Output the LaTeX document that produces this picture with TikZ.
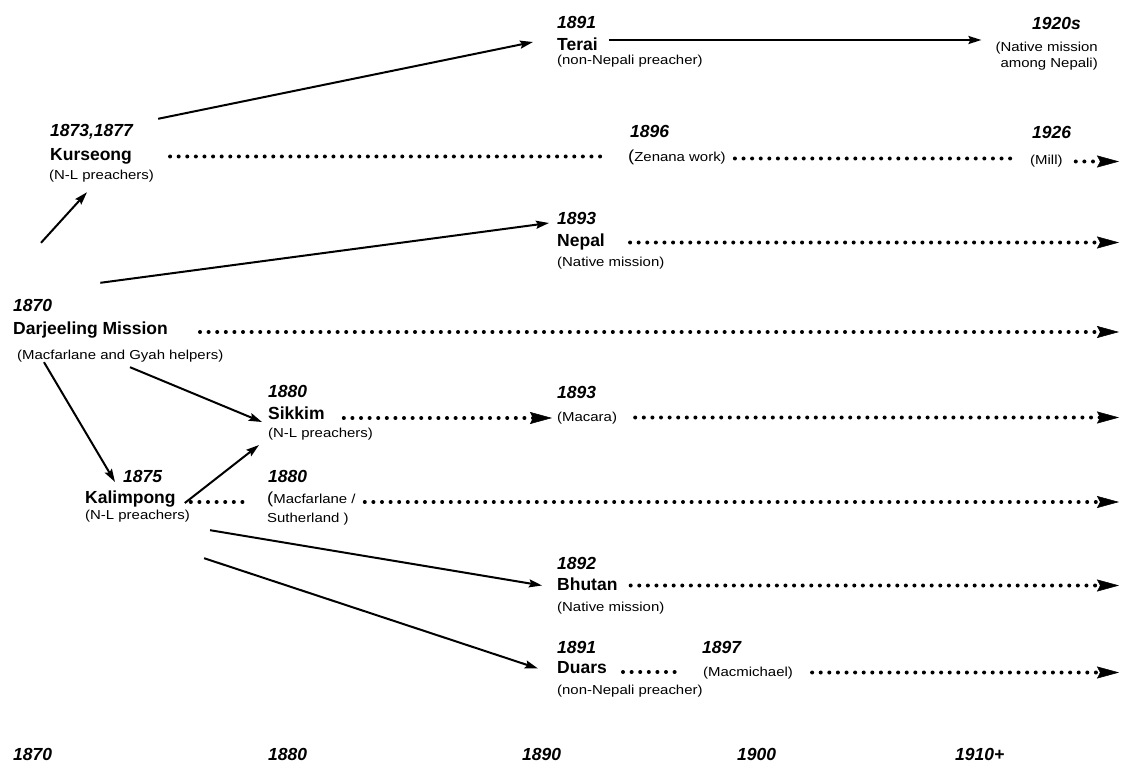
\documentclass[tikz,border=0pt]{standalone}
\usepackage{fontspec}
\setmainfont{Liberation Sans}
\newfontfamily\notefam[FakeStretch=1.15]{Liberation Sans}
\usetikzlibrary{arrows.meta}

\tikzset{
  yearlbl/.style={inner sep=0pt, anchor=base west, text height=13pt, text depth=0pt,
    font=\fontsize{17.5}{20}\selectfont\bfseries\itshape},
  placelbl/.style={inner sep=0pt, anchor=base west, text height=13pt, text depth=4pt,
    font=\fontsize{17.5}{20}\selectfont\bfseries},
  notelbl/.style={inner sep=0pt, anchor=base west, text height=10pt, text depth=3pt,
    font=\notefam\fontsize{13}{16}\selectfont},
  notepar/.style={inner sep=0pt, font=\notefam\fontsize{13}{16}\selectfont},
  arr/.style={line width=2pt, -{Stealth[length=13pt,width=8pt,inset=2pt]}},
  dotline/.style={line width=4pt, line cap=round, dash pattern=on 0pt off 8.6pt},
  dotarr/.style={dotline, -{Stealth[length=22pt,width=12pt,inset=3pt,line width=0.5pt]}}
}
\newcommand{\bigparen}{{\fontsize{16}{16}\selectfont(}}

\begin{document}
\begin{tikzpicture}[x=1pt,y=-1pt]
	\useasboundingbox (0,0) rectangle (1124,770);
	\coordinate (rEdge) at (1119,0);

	% Text Node
	\node[yearlbl] (terYear) at (557,29) {1891};
	\node[placelbl] (terName) at (557,51) {Terai};
	\node[notelbl] (terNote) at (557,65) {(non-Nepali preacher)};
	\node[yearlbl] (natYear) at (1032,30) {1920s};
	\node[notepar, align=right, anchor=north east] (natNote) at (1098,41.5) {(Native mission\\among Nepali)};
	% Text Node
	\node[yearlbl] (kurYear) at (50,137) {1873,1877};
	\node[placelbl] (kurName) at (50,161) {Kurseong};
	\node[notelbl] (kurNote) at (49,180) {(N-L preachers)};
	\node[yearlbl] (zenYear) at (630,138) {1896};
	\node[notelbl] (zenNote) at (628,162) {\bigparen Zenana work)};
	\node[yearlbl] (millYear) at (1032,139) {1926};
	\node[notelbl] (millNote) at (1030,165) {(Mill)};
	% Text Node
	\node[yearlbl] (nepYear) at (557,225) {1893};
	\node[placelbl] (nepName) at (557,247) {Nepal};
	\node[notelbl] (nepNote) at (557,266) {(Native mission)};
	% Text Node
	\node[yearlbl] (darYear) at (13,311) {1870};
	\node[placelbl] (darName) at (13,334) {Darjeeling Mission};
	\node[notelbl] (darNote) at (17,359) {(Macfarlane and Gyah helpers)};
	% Text Node
	\node[yearlbl] (sikYear) at (268,397) {1880};
	\node[placelbl] (sikName) at (268,419) {Sikkim};
	\node[notelbl] (sikNote) at (268,437) {(N-L preachers)};
	\node[yearlbl] (macYear) at (557,398) {1893};
	\node[notelbl] (macNote) at (557,421) {(Macara)};
	% Text Node
	\node[yearlbl] (kalYear) at (123,482) {1875};
	\node[placelbl] (kalName) at (85,503) {Kalimpong};
	\node[notelbl] (kalNote) at (85,519) {(N-L preachers)};
	\node[yearlbl] (sutYear) at (268,482) {1880};
	\node[notepar, align=left, anchor=north west, font=\notefam\fontsize{13}{19}\selectfont] (sutNote) at (267,491.5) {\bigparen Macfarlane /\\Sutherland )};
	% Text Node
	\node[yearlbl] (bhuYear) at (557,569) {1892};
	\node[placelbl] (bhuName) at (557,590) {Bhutan};
	\node[notelbl] (bhuNote) at (557,611) {(Native mission)};
	% Text Node
	\node[yearlbl] (duaYear) at (557,653) {1891};
	\node[placelbl] (duaName) at (557,673) {Duars};
	\node[notelbl] (duaNote) at (557,694) {(non-Nepali preacher)};
	\node[yearlbl] (mcmYear) at (702,653) {1897};
	\node[notelbl] (mcmNote) at (703,676) {(Macmichael)};
	% Text Node
	\node[yearlbl] (ax1870) at (13,760) {1870};
	\node[yearlbl] (ax1880) at (268,760) {1880};
	\node[yearlbl] (ax1890) at (522,760) {1890};
	\node[yearlbl] (ax1900) at (737,760) {1900};
	\node[yearlbl] (ax1910) at (955,760) {1910+};

	%Straight Lines
	\draw[arr] ([xshift=28pt,yshift=55pt]darYear.north west) -- ([xshift=38pt,yshift=-9pt]kurNote.south west);
	\draw[arr] ([xshift=25pt,yshift=5pt]kurYear.north east) -- ([xshift=-24pt,yshift=4.5pt]terName.west);
	\coordinate (terTail) at ([xshift=11pt,yshift=6.5pt]terName.east);
	\draw[arr, shorten >=14pt] (terTail) -- (terTail -| natNote.west);
	\draw[arr] ([xshift=48pt,yshift=15pt]darYear.north east) -- ([xshift=-8pt,yshift=-4.5pt]nepYear.west);
	\draw[arr] ([xshift=27pt]darNote.south west) -- ([xshift=-8pt]kalYear.base west);
	\draw[arr] ([xshift=113pt,yshift=-5pt]darNote.south west) -- ([xshift=-6pt,yshift=-3pt]sikName.base west);
	\draw[arr] ([xshift=9pt]kalName.base east) -- ([xshift=-9pt,yshift=-8pt]sikNote.base west);
	\draw[arr] ([xshift=20pt,yshift=-8pt]kalNote.south east) -- ([xshift=-15pt]bhuName.west);
	\draw[arr] ([xshift=14pt,yshift=-36pt]kalNote.south east) -- ([xshift=-19pt]duaName.west);

	%Dotted Lines
	\coordinate (darDot) at ([yshift=2pt]darName.base east);
	\coordinate (sikDot) at ([yshift=1pt]sikName.base east);
	\coordinate (kalDot) at ([yshift=1pt]kalName.base east);
	\coordinate (duaDot) at ([yshift=1pt]duaName.base east);
	\draw[dotline, shorten <=38pt, shorten >=20pt] (kurName.east) -- (kurName.east -| zenNote.west);
	\draw[dotline, shorten <=9pt, shorten >=18pt] (zenNote.east) -- (zenNote.east -| millNote.west);
	\draw[dotarr, shorten <=13pt] (millNote.east) -- (millNote.east -| rEdge);
	\draw[dotarr, shorten <=25pt] (nepName.east) -- (nepName.east -| rEdge);
	\draw[dotarr, shorten <=32pt] (darDot) -- (darDot -| rEdge);
	\draw[dotarr, shorten <=19pt, shorten >=5pt] (sikDot) -- (sikDot -| macNote.west);
	\draw[dotarr, shorten <=18pt] (macNote.east) -- (macNote.east -| rEdge);
	\draw[dotline, shorten <=15pt, shorten >=17pt] (kalDot) -- (kalDot -| sutNote.west);
	\draw[dotarr, shorten <=9pt] (kalDot -| sutNote.east) -- (kalDot -| rEdge);
	\draw[dotarr, shorten <=13pt] (bhuName.east) -- (bhuName.east -| rEdge);
	\draw[dotline, shorten <=16pt, shorten >=26pt] (duaDot) -- (duaDot -| mcmNote.west);
	\draw[dotarr, shorten <=19pt] (mcmNote.east) -- (mcmNote.east -| rEdge);

\end{tikzpicture}
\end{document}
